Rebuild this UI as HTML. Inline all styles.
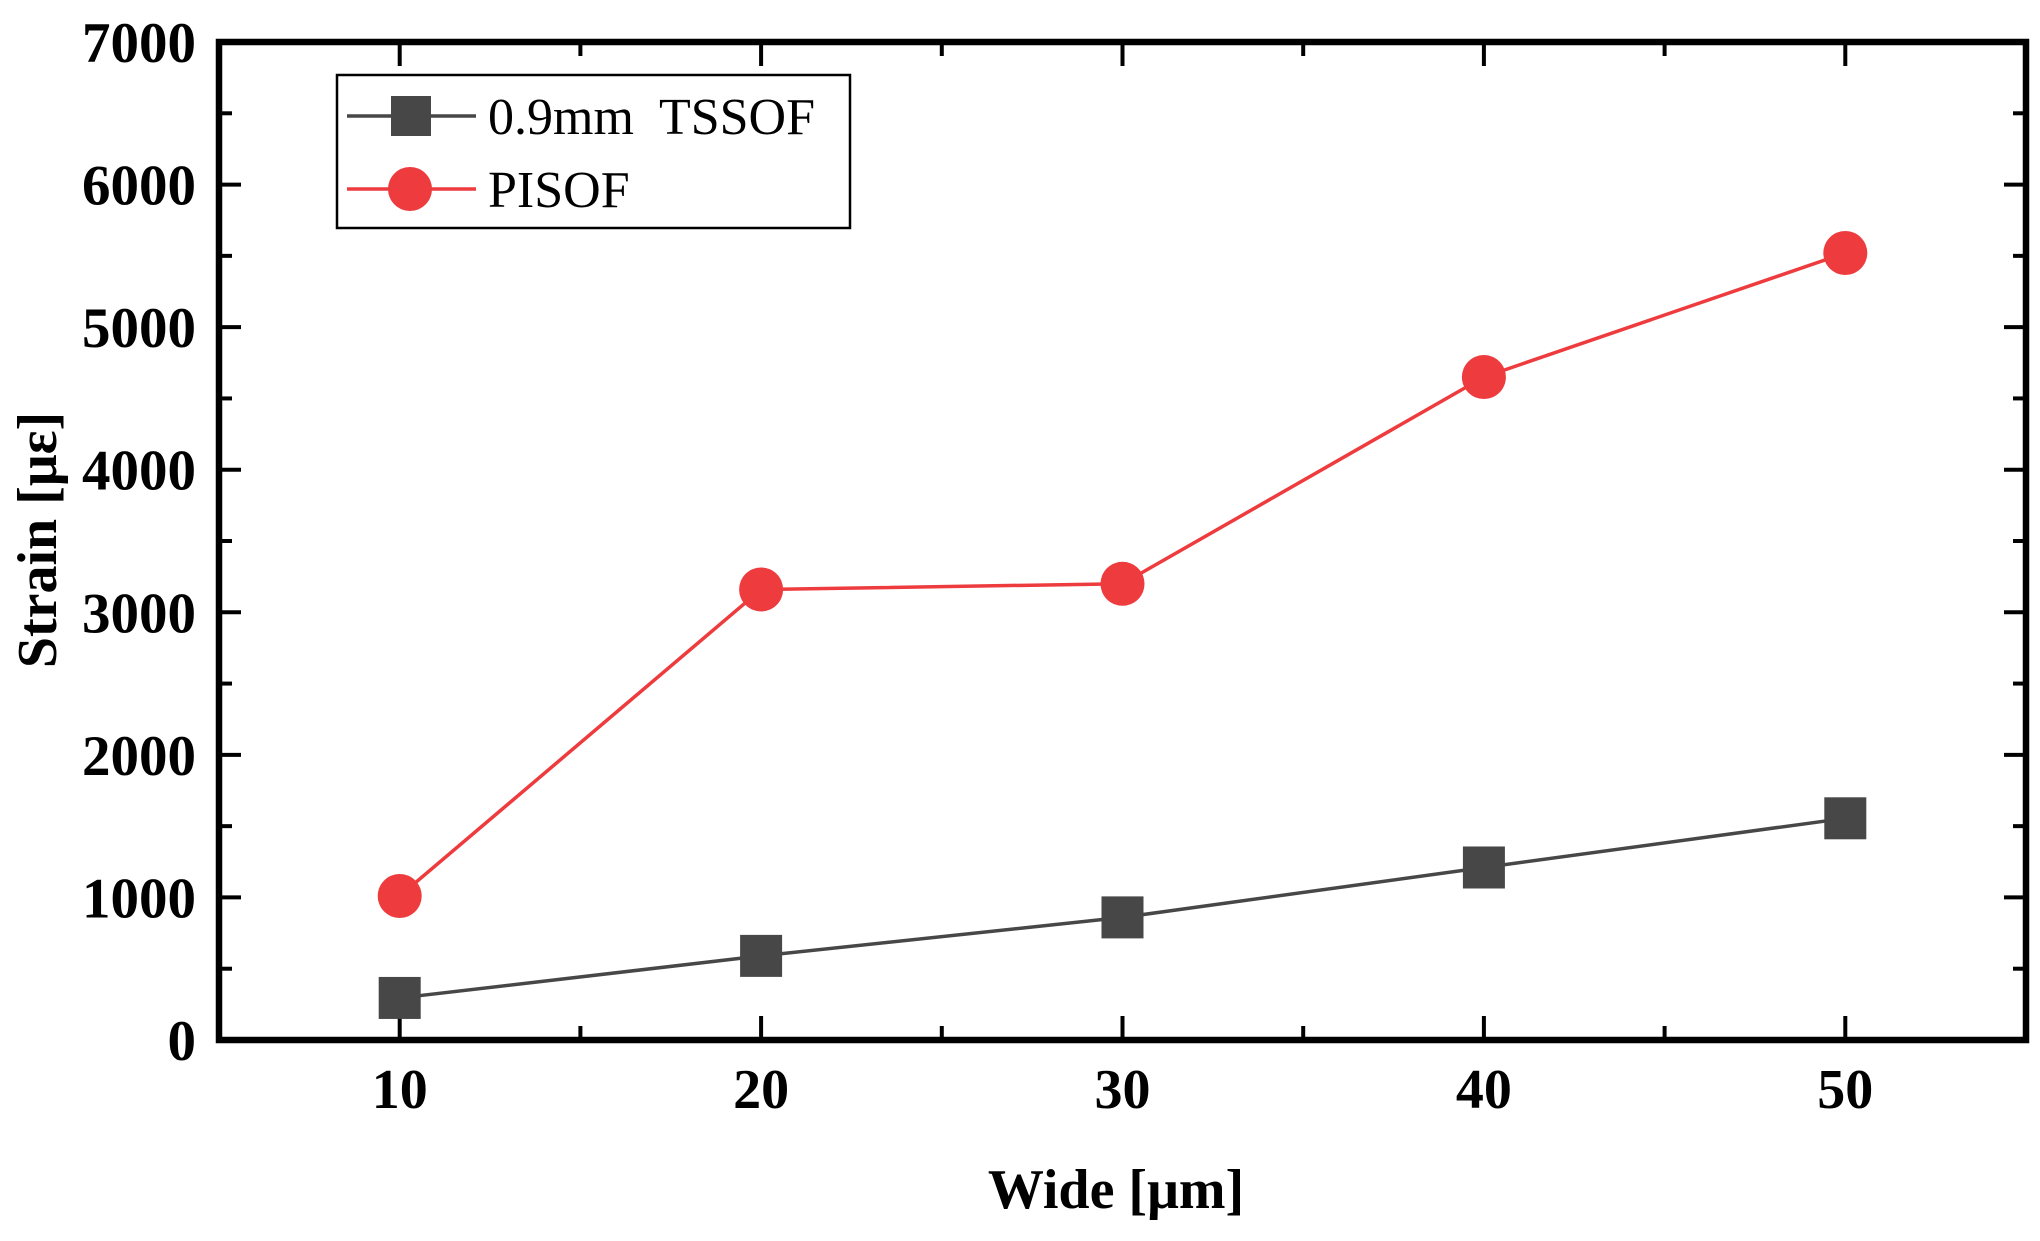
<!DOCTYPE html>
<html><head><meta charset="utf-8"><style>
html,body{margin:0;padding:0;background:#fff}
svg{display:block}
text{font-family:"Liberation Serif",serif}
</style></head><body>
<svg id="chart" width="2040" height="1241" viewBox="0 0 2040 1241" xmlns="http://www.w3.org/2000/svg"></svg>
<script>
const categories=[10,20,30,40,50];
const tssofValues=[295,590,860,1210,1555];
const pisofValues=[1010,3160,3200,4650,5520];
const yTickLabels=["0","1000","2000","3000","4000","5000","6000","7000"];
const xTickLabels=["10","20","30","40","50"];

const L=219,R=2026,T=42,B=1040;
const xMin=5,xMax=55,yMin=0,yMax=7000;
const sx=v=>L+(v-xMin)/(xMax-xMin)*(R-L);
const sy=v=>B-(v-yMin)/(yMax-yMin)*(B-T);
const svg=document.getElementById('chart');
const NS='http://www.w3.org/2000/svg';
function mk(tag,attrs,parent){const e=document.createElementNS(NS,tag);for(const k in attrs)e.setAttribute(k,attrs[k]);(parent||svg).appendChild(e);return e;}

const axes=mk('g',{});


for(let v=0;v<=7000;v+=500){
  const len=(v%1000===0)?22:13;
  const y=sy(v);
  mk('line',{x1:L,x2:L+len,y1:y,y2:y,stroke:'#000','stroke-width':4},axes);
  mk('line',{x1:R,x2:R-len,y1:y,y2:y,stroke:'#000','stroke-width':4},axes);
}
for(let v=10;v<=50;v+=5){
  const len=(v%10===0)?24:14;
  const x=sx(v);
  mk('line',{x1:x,x2:x,y1:B,y2:B-len,stroke:'#000','stroke-width':4},axes);
  mk('line',{x1:x,x2:x,y1:T,y2:T+len,stroke:'#000','stroke-width':4},axes);
}
const frame=mk('rect',{x:L,y:T,width:R-L,height:B-T,fill:'none',stroke:'#000','stroke-width':6.5});



yTickLabels.forEach((t,i)=>{
  const el=mk('text',{x:196,y:sy(i*1000)+20,'text-anchor':'end','font-size':57,'font-weight':'bold'});
  el.textContent=t;
  
  
});
xTickLabels.forEach((t,i)=>{
  const el=mk('text',{x:sx(categories[i]),y:1108,'text-anchor':'middle','font-size':56,'font-weight':'bold'});
  el.textContent=t;
  
  
});

const xt=mk('text',{x:1116,y:1208,'text-anchor':'middle','font-size':56,'font-weight':'bold'});
xt.textContent='Wide [μm]';


const yt=mk('text',{x:0,y:0,'text-anchor':'middle','font-size':56,'font-weight':'bold',transform:'translate(56,540) rotate(-90)'});
yt.textContent='Strain [με]';



function series(vals,color,shape,name){
  const g=mk('g',{});
  
  
  const pts=vals.map((v,i)=>sx(categories[i])+','+sy(v)).join(' ');
  mk('polyline',{points:pts,fill:'none',stroke:color,'stroke-width':3.5},g);
  vals.forEach((v,i)=>{
    const x=sx(categories[i]),y=sy(v);
    let m;
    if(shape==='square') m=mk('rect',{x:x-21,y:y-21,width:42,height:42,fill:color},g);
    else m=mk('circle',{cx:x,cy:y,r:22,fill:color},g);
    
    
  });
}
series(tssofValues,'#474747','square','tssof-series');
series(pisofValues,'#ee3b3e','circle','pisof-series');

const lg=mk('g',{});


mk('rect',{x:337,y:75,width:513,height:153,fill:'#fff',stroke:'#000','stroke-width':2.5},lg);
mk('line',{x1:347,x2:476,y1:116,y2:116,stroke:'#474747','stroke-width':3.5},lg);
mk('rect',{x:391,y:96,width:40,height:40,fill:'#474747'},lg);
const t1=mk('text',{x:488,y:134,'font-size':52,style:'white-space:pre'},lg);
t1.textContent='0.9mm  TSSOF';


mk('line',{x1:347,x2:476,y1:189,y2:189,stroke:'#ee3b3e','stroke-width':3.5},lg);
mk('circle',{cx:410,cy:189,r:22,fill:'#ee3b3e'},lg);
const t2=mk('text',{x:488,y:207,'font-size':52},lg);
t2.textContent='PISOF';


</script>
</body></html>
